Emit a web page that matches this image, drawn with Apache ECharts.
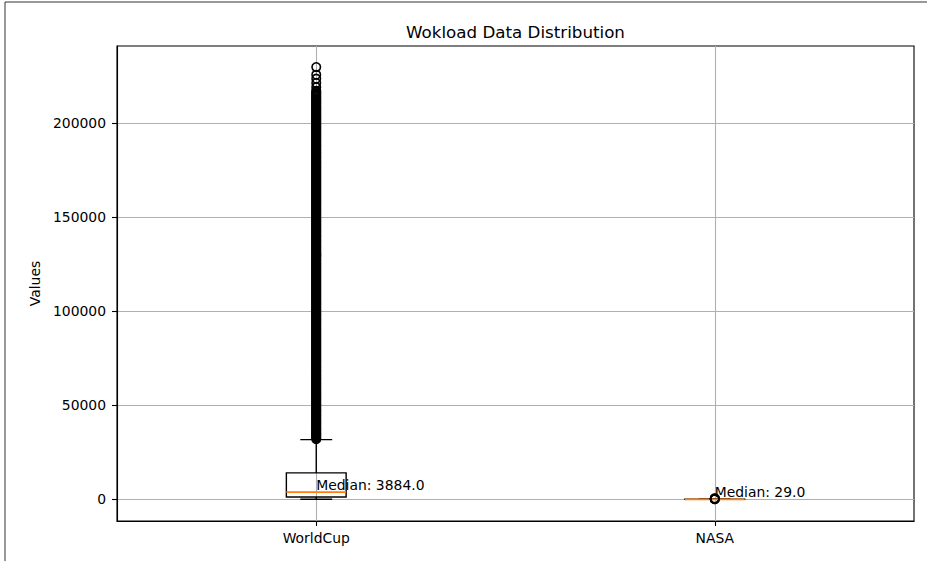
<!DOCTYPE html>
<html>
<head>
<meta charset="utf-8">
<script src="https://cdn.jsdelivr.net/npm/echarts@6/dist/echarts.min.js"></script>
<style>
html,body{margin:0;padding:0;background:#fff;}
#chart{width:927px;height:561px;}
</style>
</head>
<body>
<div id="chart"></div>
<script>
const categories = ['WorldCup', 'NASA'];
const whiskerLow = [60, 0];
const q1 = [1250, 8];
const medians = [3884.0, 29.0];
const q3 = [14100, 70];
const whiskerHigh = [31800, 135];
const worldCupOutliers = [32100, 32700, 33250, 33900, 34480, 35050, 35600, 36200, 36830, 37400, 38010, 38600, 39200, 39800, 40450, 41000, 41600, 42200, 42790, 43400, 44000, 44600, 45180, 45800, 46400, 46950, 47550, 48150, 48760, 49350, 49980, 50550, 51150, 51750, 52370, 52950, 53560, 54150, 54720, 55350, 55940, 56500, 57100, 57700, 58330, 58900, 59500, 60100, 60690, 61300, 61900, 62500, 63080, 63700, 64300, 64850, 65470, 66050, 66650, 67250, 67880, 68450, 69040, 69650, 70260, 70850, 71430, 72050, 72620, 73250, 73850, 74400, 75010, 75600, 76230, 76800, 77400, 78000, 78580, 79200, 79800, 80400, 80970, 81600, 82180, 82750, 83360, 83950, 84550, 85150, 85770, 86350, 86940, 87550, 88150, 88750, 89330, 89900, 90510, 91100, 91740, 92300, 92900, 93500, 94120, 94700, 95300, 95900, 96480, 97100, 97700, 98300, 98870, 99450, 100090, 100650, 101260, 101850, 102440, 103050, 103670, 104250, 104830, 105450, 106050, 106600, 107220, 107800, 108400, 109000, 109630, 110200, 110790, 111400, 112010, 112600, 113180, 113750, 114360, 114950, 115590, 116150, 116750, 117350, 117970, 118550, 119140, 119750, 120320, 120950, 121550, 122100, 122710, 123300, 123930, 124500, 125100, 125700, 126280, 126900, 127510, 128100, 128670, 129250, 129890, 130450, 131060, 131650, 132240, 132850, 133470, 134050, 134630, 135250, 135850, 136400, 137020, 137600, 138200, 138800, 139430, 140000, 140590, 141200, 141810, 142400, 142980, 143550, 144160, 144750, 145390, 145950, 146550, 147150, 147770, 148350, 148940, 149550, 150120, 150750, 151350, 151900, 152510, 153100, 153730, 154300, 154900, 155500, 156080, 156700, 157310, 157900, 158470, 159050, 159690, 160250, 160860, 161450, 162040, 162650, 163270, 163850, 164430, 165050, 165650, 166200, 166820, 167400, 168000, 168600, 169230, 169800, 170390, 171000, 171610, 172200, 172780, 173350, 173960, 174550, 175190, 175750, 176350, 176950, 177570, 178150, 178740, 179350, 179920, 180550, 181150, 181700, 182310, 182900, 183530, 184100, 184700, 185300, 185880, 186500, 187110, 187700, 188270, 188850, 189490, 190050, 190660, 191250, 191840, 192450, 193070, 193650, 194230, 194850, 195450, 196000, 196620, 197200, 197800, 198400, 199030, 199600, 200190, 200800, 201410, 202000, 202580, 203150, 203760, 204350, 204990, 205550, 206150, 206750, 207370, 207950, 208540, 209150, 209720, 210350, 210950, 211500, 212100, 212700, 213300, 213950, 214600, 215250, 215900, 216550, 217200, 219100, 221300, 223600, 225700, 229800];
const nasaOutliers = [140, 180, 260, 400, 620];
const yTicks = [0, 50000, 100000, 150000, 200000];
const yMin = -11475;
const yMax = 240975;

const FONT = 'DejaVu Sans';
const boxData = categories.map((c, i) => [i + 1, whiskerLow[i], q1[i], medians[i], q3[i], whiskerHigh[i]]);
const outlierData = []
  .concat(worldCupOutliers.map(v => [1, v]))
  .concat(nasaOutliers.map(v => [2, v]));

const chart = echarts.init(document.getElementById('chart'), null, {renderer: 'svg'});
const option = {
  animation: false,
  backgroundColor: '#ffffff',
  graphic: [
    {type: 'line', shape: {x1: 5, y1: 2, x2: 927, y2: 2}, style: {stroke: '#333', lineWidth: 1}},
    {type: 'line', shape: {x1: 5, y1: 2, x2: 5, y2: 561}, style: {stroke: '#333', lineWidth: 1}},
    {type: 'text', x: 515.5, y: 32, style: {text: 'Wokload Data Distribution', font: '16.7px ' + FONT, fill: '#000', align: 'center', verticalAlign: 'middle'}}
  ],
  grid: {left: 117, right: 13, top: 46, bottom: 40, show: true, borderColor: '#000', borderWidth: 1.1, backgroundColor: 'transparent'},
  xAxis: {
    type: 'value', min: 0.5, max: 2.5,
    axisLine: {show: true, onZero: false, lineStyle: {color: '#000', width: 1.1}},
    axisTick: {show: true, length: 5, customValues: [1, 2], lineStyle: {color: '#000', width: 1.1}},
    axisLabel: {customValues: [1, 2], formatter: v => categories[Math.round(v) - 1], color: '#000', fontFamily: FONT, fontSize: 13.9, margin: 10},
    splitLine: {show: true, lineStyle: {color: '#b0b0b0', width: 1.1}}
  },
  yAxis: {
    type: 'value', min: yMin, max: yMax,
    name: 'Values', nameLocation: 'middle', nameGap: 69, nameRotate: 90,
    nameTextStyle: {color: '#000', fontFamily: FONT, fontSize: 13.9},
    axisLine: {show: true, onZero: false, lineStyle: {color: '#000', width: 1.1}},
    axisTick: {show: true, length: 5, customValues: yTicks, lineStyle: {color: '#000', width: 1.1}},
    axisLabel: {customValues: yTicks, formatter: v => String(v), color: '#000', fontFamily: FONT, fontSize: 13.9, margin: 11},
    splitLine: {show: true, lineStyle: {color: '#b0b0b0', width: 1.1}}
  },
  series: [
    {
      type: 'custom',
      data: boxData,
      z: 3,
      renderItem: function (params, api) {
        const x = api.value(0);
        const lo = api.value(1), a = api.value(2), m = api.value(3), b = api.value(4), hi = api.value(5);
        const half = 0.075, capHalf = 0.04;
        const p = (xx, yy) => api.coord([xx, yy]);
        const ls = {stroke: '#000', lineWidth: 1.4, fill: 'none'};
        const tl = p(x - half, b), br = p(x + half, a);
        const line = (p1, p2, style) => ({type: 'line', shape: {x1: p1[0], y1: p1[1], x2: p2[0], y2: p2[1]}, style: style});
        const mp = p(x, m);
        return {
          type: 'group',
          children: [
            {type: 'rect', shape: {x: tl[0], y: tl[1], width: br[0] - tl[0], height: br[1] - tl[1]}, style: ls},
            line(p(x, b), p(x, hi), ls),
            line(p(x - capHalf, hi), p(x + capHalf, hi), ls),
            line(p(x, a), p(x, lo), ls),
            line(p(x - capHalf, lo), p(x + capHalf, lo), ls),
            line(p(x - half, m), p(x + half, m), {stroke: '#ff7f0e', lineWidth: 1.6}),
            {type: 'text', x: mp[0], y: mp[1], z2: 10, style: {text: 'Median: ' + m.toFixed(1), font: '13.9px ' + FONT, fill: '#000', align: 'left', verticalAlign: 'bottom'}}
          ]
        };
      }
    },
    {
      type: 'scatter',
      data: outlierData,
      z: 4,
      symbol: 'circle',
      symbolSize: 8.5,
      itemStyle: {color: 'rgba(0,0,0,0)', borderColor: '#000', borderWidth: 1.6, opacity: 1}
    }
  ]
};
chart.setOption(option);
</script>
</body>
</html>
